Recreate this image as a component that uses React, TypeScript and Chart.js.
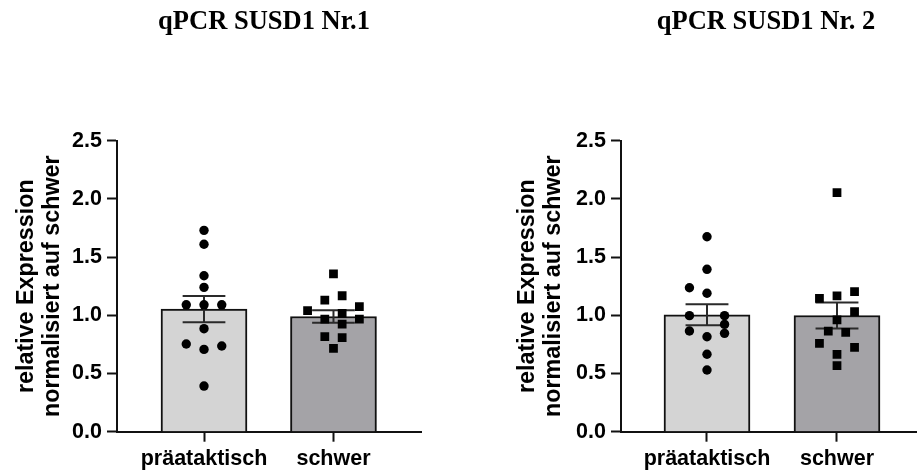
import React, { useEffect, useRef } from 'react';
import { Chart, registerables } from 'chart.js';

Chart.register(...registerables);

// ---------- data ----------
const GROUPS = ['präataktisch', 'schwer'];
const Y_TICKS = [0, 0.5, 1.0, 1.5, 2.0, 2.5];
const Y_TITLE = ['relative Expression', 'normalisiert auf schwer'];

const P1_TITLE = 'qPCR SUSD1 Nr.1';
const P1_MEANS = [1.053, 0.99];
const P1_SEM = [0.112, 0.053];
const P1_PRE = [1.73, 1.61, 1.34, 1.24, 1.09, 1.09, 1.09, 0.885, 0.753, 0.736, 0.707, 0.392];
const P1_PRE_JITTER = [0, 0, 0, 0, -0.137, 0, 0.137, 0, -0.137, 0.137, 0, 0];
const P1_SEV = [1.355, 1.131, 1.168, 1.04, 1.074, 0.968, 1.017, 0.925, 0.968, 0.816, 0.808, 0.716];
const P1_SEV_JITTER = [0, -0.067, 0.067, -0.2, 0.2, -0.067, 0.067, 0.067, 0.2, -0.067, 0.067, 0];

const P2_TITLE = 'qPCR SUSD1 Nr. 2';
const P2_MEANS = [1.005, 0.998];
const P2_SEM = [0.09, 0.112];
const P2_PRE = [1.675, 1.395, 1.237, 1.189, 0.997, 0.997, 0.922, 0.865, 0.845, 0.816, 0.665, 0.53];
const P2_PRE_JITTER = [0, 0, -0.135, 0, -0.135, 0.135, 0.135, -0.135, 0.135, 0, 0, 0];
const P2_SEV = [2.053, 1.146, 1.166, 1.203, 1.031, 0.96, 0.865, 0.854, 0.759, 0.725, 0.665, 0.567];
const P2_SEV_JITTER = [0, -0.135, 0, 0.135, 0.135, 0, -0.067, 0.067, -0.135, 0.135, 0, 0];

// ---------- style ----------
const BAR_COLORS = ['#d4d4d4', '#a4a3a7'];
const SANS = '"Liberation Sans", Arial, Helvetica, sans-serif';
const SERIF = '"Liberation Serif", "Times New Roman", serif';
const CAP = 0.165;

type PanelProps = {
  left: number;
  width: number;
  yAxisWidth: number;
  rightSpace: number;
  xMin: number;
  xMax: number;
  yTitlePad: number;
  title: string;
  means: number[];
  sem: number[];
  pre: number[];
  preJitter: number[];
  sev: number[];
  sevJitter: number[];
};

function Panel(p: PanelProps) {
  const ref = useRef<HTMLCanvasElement | null>(null);
  useEffect(() => {
    if (!ref.current) return;
    const errData: { x: number; y: number | null }[] = [];
    p.means.forEach((m, i) => {
      const x = i + 1;
      const hi = m + p.sem[i];
      const lo = m - p.sem[i];
      errData.push(
        { x: x - CAP, y: hi }, { x: x + CAP, y: hi }, { x: x + CAP, y: null },
        { x, y: hi }, { x, y: lo }, { x, y: null },
        { x: x - CAP, y: lo }, { x: x + CAP, y: lo }, { x: x + CAP, y: null }
      );
    });
    const chart = new Chart(ref.current, {
      type: 'bar',
      data: {
        datasets: [
          {
            type: 'bar',
            data: p.means.map((m, i) => ({ x: i + 1, y: m })),
            backgroundColor: BAR_COLORS,
            borderColor: '#111',
            borderWidth: 2,
            barThickness: 86,
            order: 3,
          } as any,
          {
            type: 'line',
            data: errData,
            borderColor: '#2a2a2a',
            borderWidth: 2,
            pointRadius: 0,
            spanGaps: false,
            fill: false,
            order: 2,
          } as any,
          {
            type: 'scatter',
            data: p.pre.map((v, i) => ({ x: 1 + p.preJitter[i], y: v })),
            pointStyle: 'circle',
            pointRadius: 4.7,
            backgroundColor: '#000',
            borderColor: '#000',
            borderWidth: 0,
            order: 1,
          } as any,
          {
            type: 'scatter',
            data: p.sev.map((v, i) => ({ x: 2 + p.sevJitter[i], y: v })),
            pointStyle: 'rect',
            pointRadius: 6.2,
            backgroundColor: '#000',
            borderColor: '#000',
            borderWidth: 0,
            order: 1,
          } as any,
        ],
      },
      options: {
        animation: false,
        responsive: false,
        maintainAspectRatio: false,
        events: [],
        layout: { padding: 0 },
        plugins: {
          legend: { display: false },
          tooltip: { enabled: false },
          title: {
            display: true,
            text: p.title,
            color: '#000',
            font: { family: SERIF, weight: 'bold', size: 26.5, lineHeight: 1.2 },
            padding: { top: 6.2, bottom: 102.7 },
          },
        },
        scales: {
          x: {
            type: 'linear',
            min: p.xMin,
            max: p.xMax,
            offset: false,
            afterBuildTicks: (s: any) => {
              s.ticks = GROUPS.map((_, i) => ({ value: i + 1 }));
            },
            afterFit: (s: any) => {
              s.height = 41.3;
            },
            grid: {
              display: true,
              offset: false,
              drawOnChartArea: false,
              drawTicks: true,
              tickLength: 10,
              tickColor: '#111',
              tickWidth: 2,
            },
            border: { display: true, color: '#111', width: 2 },
            ticks: {
              autoSkip: false,
              maxRotation: 0,
              padding: 4,
              color: '#000',
              font: { family: SANS, weight: 'bold', size: 21.5 },
              callback: (v: any) => GROUPS[Math.round(Number(v)) - 1] ?? '',
            },
          },
          y: {
            min: 0,
            max: 2.5,
            afterBuildTicks: (s: any) => {
              s.ticks = Y_TICKS.map((v) => ({ value: v }));
            },
            afterFit: (s: any) => {
              s.width = p.yAxisWidth;
            },
            grid: {
              display: true,
              offset: false,
              drawOnChartArea: false,
              drawTicks: true,
              tickLength: 10,
              tickColor: '#111',
              tickWidth: 2,
            },
            border: { display: true, color: '#111', width: 2 },
            ticks: {
              padding: 5,
              color: '#000',
              font: { family: SANS, weight: 'bold', size: 21.5 },
              callback: (v: any) => Number(v).toFixed(1),
            },
            title: {
              display: true,
              text: Y_TITLE,
              color: '#000',
              font: { family: SANS, weight: 'bold', size: 23.3, lineHeight: 1.14 },
              padding: { top: p.yTitlePad, bottom: 0 },
            },
          },
          // empty spacer on the right so the chart title is centred over the plot
          yRight: {
            type: 'linear',
            position: 'right',
            display: true,
            grid: { display: false, drawTicks: false },
            border: { display: false },
            ticks: { display: false },
            afterFit: (s: any) => {
              s.width = p.rightSpace;
            },
          },
        },
      } as any,
    });
    return () => chart.destroy();
  }, []);
  return (
    <div style={{ position: 'absolute', left: p.left, top: 0, width: p.width, height: 473 }}>
      <canvas ref={ref} width={p.width} height={473} style={{ display: 'block' }} />
    </div>
  );
}

export default function App() {
  return (
    <div
      style={{
        position: 'absolute',
        left: 0,
        top: 0,
        width: 917,
        height: 473,
        overflow: 'hidden',
        background: '#fff',
      }}
    >
      <Panel
        left={0}
        width={528}
        yAxisWidth={117}
        rightSpace={107}
        xMin={0.328}
        xMax={2.676}
        yTitlePad={12.9}
        title={P1_TITLE}
        means={P1_MEANS}
        sem={P1_SEM}
        pre={P1_PRE}
        preJitter={P1_PRE_JITTER}
        sev={P1_SEV}
        sevJitter={P1_SEV_JITTER}
      />
      <Panel
        left={512}
        width={508}
        yAxisWidth={109}
        rightSpace={90}
        xMin={0.3385}
        xMax={2.7154}
        yTitlePad={1.9}
        title={P2_TITLE}
        means={P2_MEANS}
        sem={P2_SEM}
        pre={P2_PRE}
        preJitter={P2_PRE_JITTER}
        sev={P2_SEV}
        sevJitter={P2_SEV_JITTER}
      />
    </div>
  );
}
